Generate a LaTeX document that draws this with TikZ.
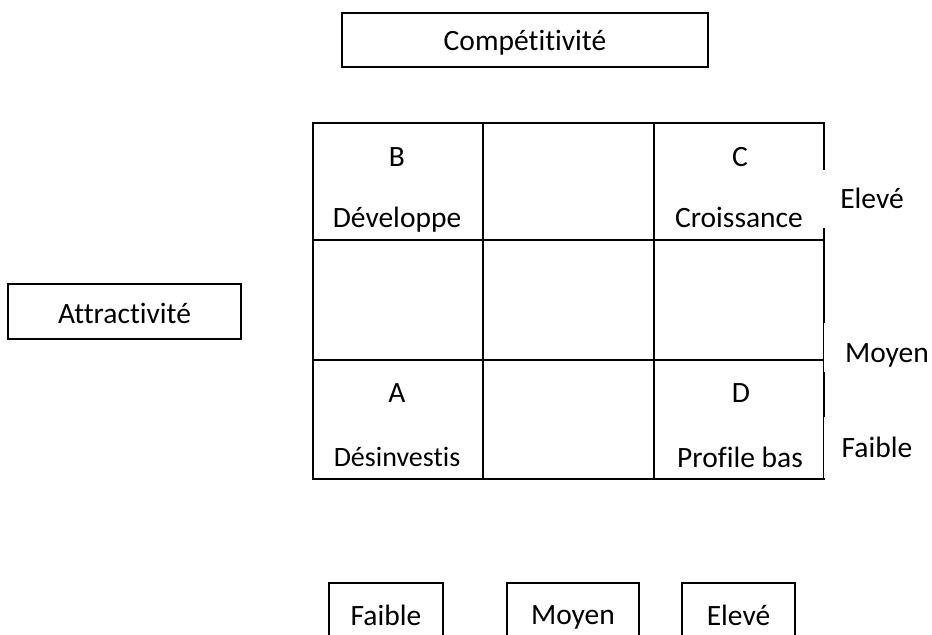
\documentclass[tikz,border=0pt]{standalone}
\usepackage{fontspec}
\setmainfont{Carlito}[Ligatures=NoCommon]
\begin{document}
\begin{tikzpicture}[x=1bp,y=-1bp,
  every node/.style={font=\fontsize{29.5bp}{35bp}\selectfont, inner sep=0pt},
  framebox/.style={draw, line width=2bp, minimum width=#1},
  gridline/.style={line width=2.2bp},
  cover/.style={fill=white},
  txt/.style={anchor=base}]
\useasboundingbox (0,0) rectangle (932,635);
\clip (0,0) rectangle (932,635);

% axis title boxes
\draw[line width=2bp] (342,13) rectangle (708,67);
\draw[line width=2bp] (8,284) rectangle (241,339);
\node[txt] (comp) at (525,51) {Compétitivité};
\node[txt] (attr) at (124.5,323) {Attractivité};

% 3 x 3 matrix
\draw[gridline] (313,123) rectangle (824,479);
\draw[gridline] (483,123) -- (483,479);
\draw[gridline] (654,123) -- (654,479);
\draw[gridline] (313,240) -- (824,240);
\draw[gridline] (313,360) -- (824,360);

% quadrant labels
\node[txt] (b)    at (397,167) {B};
\node[txt] (bdev) at (397,228) {Développe};
\node[txt] (c)    at (740,167) {C};
\node[txt] (ccro) at (739,228) {Croissance};
\node[txt] (a)    at (397,402) {A};
\node[txt, font=\fontsize{28bp}{33bp}\selectfont] (ades) at (397,466) {Désinvestis};
\node[txt] (d)    at (741,402) {D};
\node[txt] (dpro) at (740,467) {Profile bas};

% level labels on the right (white text boxes over the frame)
\fill[cover] (822.6,170) rectangle (932,228);
\fill[cover] (824.4,323) rectangle (932,372);
\fill[cover] (824.4,417) rectangle (932,478);
\node[txt] (rhigh) at (872,209) {Elevé};
\node[txt] (rmid)  at (887,362) {Moyen};
\node[txt] (rlow)  at (877,457) {Faible};

% level boxes at the bottom (cut by the lower edge)
\draw[line width=2bp] (329,583) rectangle (443,660);
\draw[line width=2bp] (507,583) rectangle (639,660);
\draw[line width=2bp] (682,583) rectangle (795,660);
\node[txt] (blow)  at (386,625) {Faible};
\node[txt] (bmid)  at (573,624) {Moyen};
\node[txt] (bhigh) at (738.5,625) {Elevé};
\end{tikzpicture}
\end{document}
